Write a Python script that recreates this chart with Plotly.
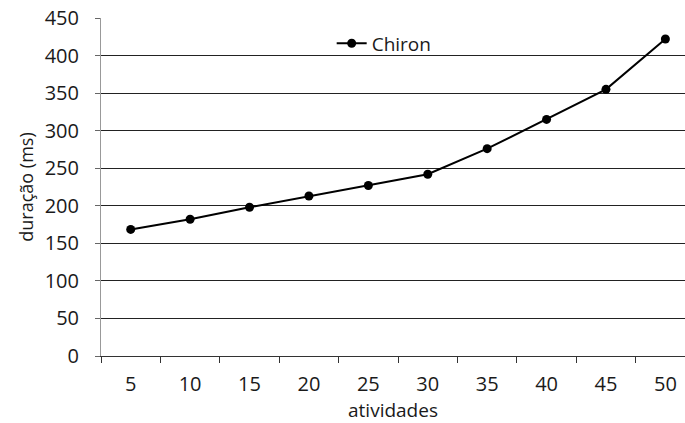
import plotly.graph_objects as go

categories = ["5", "10", "15", "20", "25", "30", "35", "40", "45", "50"]
chiron = [168.5, 182, 198, 213, 227, 242, 276, 315, 355, 422]
y_ticks = [0, 50, 100, 150, 200, 250, 300, 350, 400, 450]

font_family = "'Open Sans', 'Noto Sans', sans-serif"

fig = go.Figure()
fig.add_trace(go.Scatter(
    x=categories, y=chiron, name="Chiron",
    mode="lines+markers",
    line=dict(color="black", width=2),
    marker=dict(color="black", size=9),
))

fig.update_layout(
    width=685, height=423,
    margin=dict(l=101, r=0, t=18, b=67),
    paper_bgcolor="white", plot_bgcolor="white",
    font=dict(family=font_family, size=20, color="#1a1a1a"),
    showlegend=True,
    legend=dict(x=0.395, y=0.925, xanchor="left", yanchor="middle",
                bgcolor="rgba(0,0,0,0)", font=dict(size=19),
                itemwidth=30),
    xaxis=dict(
        type="category", range=[-0.5, 9.33], automargin=False,
        title=dict(text="atividades", standoff=3, font=dict(size=19)),
        showgrid=False, showline=True, linecolor="#333", linewidth=1,
        ticks="outside", tickson="boundaries", ticklen=6, tickcolor="#333",
        ticklabelstandoff=10, ticklabeloverflow="allow",
        tickfont=dict(size=20),
    ),
    yaxis=dict(
        range=[0, 450], tickvals=y_ticks, automargin=False,
        title=dict(text="duração (ms)", standoff=6, font=dict(size=18)),
        showgrid=True, gridcolor="#222", gridwidth=1,
        showline=True, linecolor="#999", linewidth=1,
        ticks="outside", ticklen=5, tickcolor="#666",
        ticklabelstandoff=12, ticklabeloverflow="allow",
        tickfont=dict(size=20), zeroline=False,
    ),
)

fig.write_html(
    "out.html",
    config={"displayModeBar": False},
    post_script="document.body.style.margin='0';document.body.style.overflow='hidden';",
)
